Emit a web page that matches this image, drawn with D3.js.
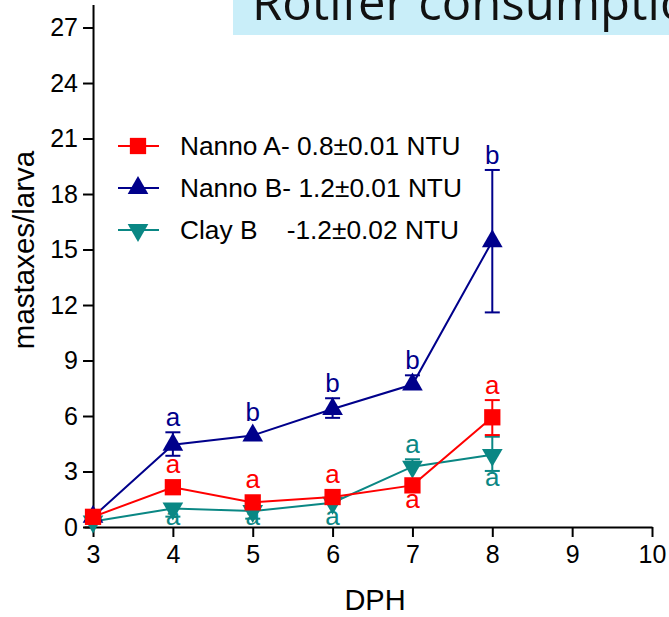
<!DOCTYPE html>
<html>
<head>
<meta charset="utf-8">
<script src="https://cdn.jsdelivr.net/npm/d3@7"></script>
<style>
  html, body { margin: 0; padding: 0; background: #fff; }
  svg { display: block; }
  text { font-family: Arial, "Liberation Sans", sans-serif; }
</style>
</head>
<body>
<svg id="chart" width="669" height="617"></svg>
<script>
// Days post hatch
const days = [3, 4, 5, 6, 7, 8];
const xTicks = [3, 4, 5, 6, 7, 8, 9, 10];
const yTicks = [0, 3, 6, 9, 12, 15, 18, 21, 24, 27];

// Mean mastaxes per larva and error bars (upper / lower)
const nannoA = [0.55, 2.15, 1.33, 1.62, 2.25, 5.93];
const nannoAUp = [0, 0, 0, 0, 0, 0.93];
const nannoADown = [0, 0, 0, 0, 0, 0.96];
const nannoALetters = ["", "a", "a", "a", "a", "a"];
const nannoALetterSide = ["", "above", "above", "above", "below", "above"];

const nannoB = [0.55, 4.45, 4.95, 6.38, 7.7, 15.45];
const nannoBUp = [0, 0.67, 0, 0.58, 0.5, 3.85];
const nannoBDown = [0, 0.6, 0, 0.48, 0, 3.85];
const nannoBLetters = ["", "a", "b", "b", "b", "b"];
const nannoBLetterSide = ["", "above", "above", "above", "above", "above"];

const clayB = [0.3, 1.0, 0.86, 1.31, 3.26, 3.9];
const clayBUp = [0, 0, 0, 0, 0.4, 0.98];
const clayBDown = [0, 0.44, 0.41, 0, 0, 0.87];
const clayBLetters = ["", "a", "a", "a", "a", "a"];
const clayBLetterSide = ["", "below", "below", "below", "above", "below"];

const seriesNames = ["Nanno A- 0.8\u00b10.01 NTU", "Nanno B- 1.2\u00b10.01 NTU", "Clay B    -1.2\u00b10.02 NTU"];
const titleText = "Rotifer consumption";

const series = [
  { name: seriesNames[0], values: nannoA, up: nannoAUp, down: nannoADown, letters: nannoALetters, side: nannoALetterSide, color: "#ff0000", symbol: d3.symbolSquare, size: 265, rot: 0 },
  { name: seriesNames[1], values: nannoB, up: nannoBUp, down: nannoBDown, letters: nannoBLetters, side: nannoBLetterSide, color: "#00008b", symbol: d3.symbolTriangle, size: 185, rot: 0 },
  { name: seriesNames[2], values: clayB, up: clayBUp, down: clayBDown, letters: clayBLetters, side: clayBLetterSide, color: "#0a8784", symbol: d3.symbolTriangle, size: 185, rot: 180 }
];

const svg = d3.select("#chart");

const x = d3.scaleLinear().domain([2.887, 10]).range([84, 652]);
const y = d3.scaleLinear().domain([0, 28.25]).range([527, 4.4]);

// Title banner (runs off the top edge)
svg.append("rect").attr("x", 233).attr("y", 0).attr("width", 436).attr("height", 35).attr("fill", "#c9eef9");
svg.append("text").attr("x", 252).attr("y", 20)
  .style("font-family", "'Open Sans', sans-serif").style("font-size", "49px").attr("fill", "#111")
  .text(titleText);

// Axes
const xAxis = svg.append("g").attr("transform", `translate(0,${y(0)})`)
  .call(d3.axisBottom(x).tickValues(xTicks).tickFormat(d3.format("d")).tickSize(10).tickSizeOuter(0).tickPadding(8));
const yAxis = svg.append("g").attr("transform", `translate(${x(3)},0)`)
  .call(d3.axisLeft(y).tickValues(yTicks).tickFormat(d3.format("d")).tickSize(10).tickSizeOuter(0).tickPadding(5));
[xAxis, yAxis].forEach(g => {
  g.select(".domain").attr("stroke", "#000").attr("stroke-width", 2);
  g.selectAll(".tick line").attr("stroke", "#000").attr("stroke-width", 2);
  g.selectAll(".tick text").attr("fill", "#000").style("font-size", "25px").style("font-family", "Arial, 'Liberation Sans', sans-serif");
});

svg.append("text").attr("x", 375).attr("y", 610).attr("text-anchor", "middle")
  .style("font-size", "29px").text("DPH");
svg.append("text").attr("transform", "translate(34,250) rotate(-90)").attr("text-anchor", "middle")
  .style("font-size", "29.5px").text("mastaxes/larva");

// Series: drawn back to front
const line = d3.line().x((d, i) => x(days[i])).y(d => y(d));
const drawOrder = [series[2], series[1], series[0]];

drawOrder.forEach(s => {
  const g = svg.append("g");
  g.append("path").datum(s.values).attr("d", line)
    .attr("fill", "none").attr("stroke", s.color).attr("stroke-width", 2);

  // error bars
  days.forEach((d, i) => {
    const v = s.values[i];
    const parts = [];
    if (s.up[i] > 0) parts.push(v + s.up[i]);
    if (s.down[i] > 0) parts.push(v - s.down[i]);
    parts.forEach(end => {
      g.append("line").attr("x1", x(d)).attr("x2", x(d)).attr("y1", y(v)).attr("y2", y(end))
        .attr("stroke", s.color).attr("stroke-width", 2);
      g.append("line").attr("x1", x(d) - 7.5).attr("x2", x(d) + 7.5).attr("y1", y(end)).attr("y2", y(end))
        .attr("stroke", s.color).attr("stroke-width", 2);
    });
  });

  // markers
  g.selectAll("path.mark").data(s.values).join("path").attr("class", "mark")
    .attr("d", d3.symbol().type(s.symbol).size(s.size))
    .attr("transform", (v, i) => `translate(${x(days[i])},${y(v)}) rotate(${s.rot})`)
    .attr("fill", s.color);

  // significance letters
  days.forEach((d, i) => {
    if (!s.letters[i]) return;
    const v = s.values[i];
    let by;
    if (s.side[i] === "above") {
      by = Math.min(y(v + s.up[i]), y(v) - 8) - 6;
    } else {
      by = Math.min(Math.max(y(v - s.down[i]), y(v) + 8) + 15, 525);
    }
    g.append("text").attr("x", x(d)).attr("y", by).attr("text-anchor", "middle")
      .attr("fill", s.color).style("font-size", "26px").text(s.letters[i]);
  });
});

// Legend
const legend = svg.append("g");
const legendRows = [146, 188, 230];
series.forEach((s, i) => {
  const ly = legendRows[i];
  legend.append("line").attr("x1", 118).attr("x2", 159).attr("y1", ly).attr("y2", ly)
    .attr("stroke", s.color).attr("stroke-width", 2);
  legend.append("path").attr("d", d3.symbol().type(s.symbol).size(s.size))
    .attr("transform", `translate(138,${ly}) rotate(${s.rot})`).attr("fill", s.color);
  legend.append("text").attr("x", 180).attr("y", ly + 9).style("font-size", "26.3px")
    .style("white-space", "pre").attr("fill", "#000").text(s.name);
});
</script>
</body>
</html>
